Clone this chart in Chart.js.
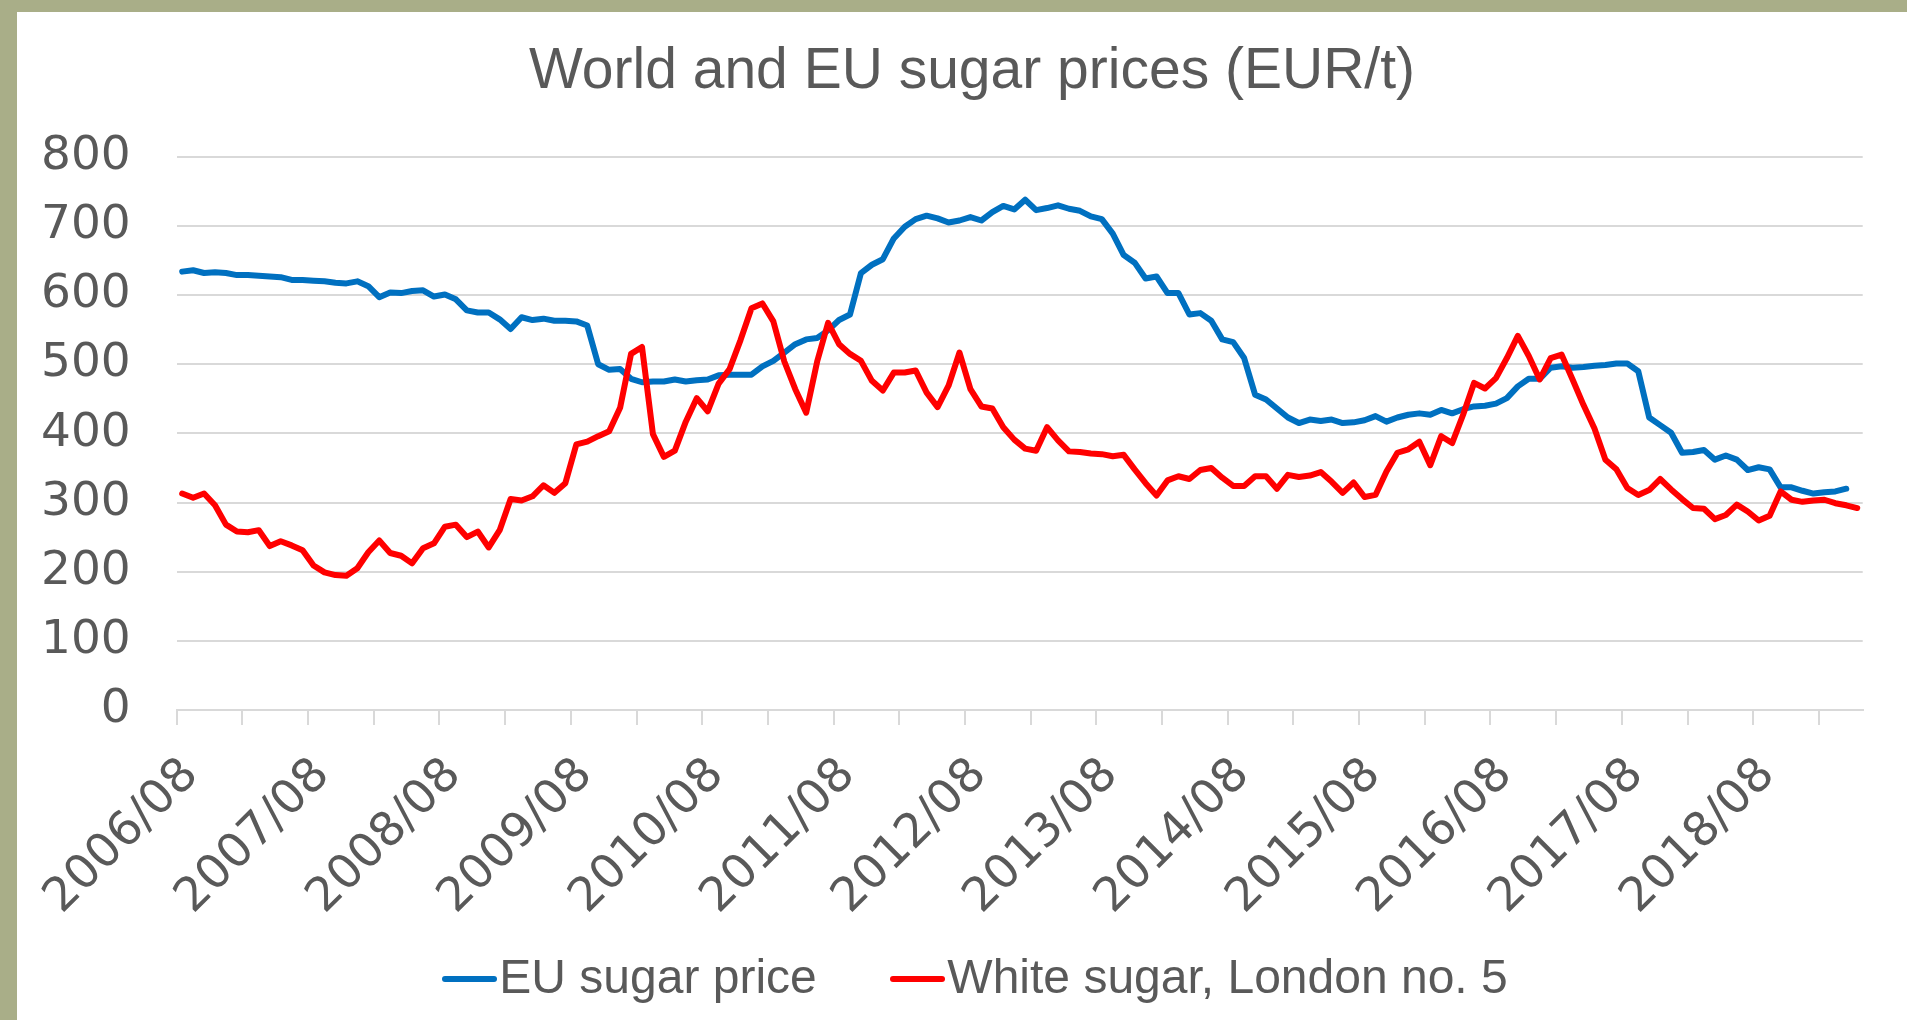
<!DOCTYPE html>
<html>
<head>
<meta charset="utf-8">
<title>World and EU sugar prices (EUR/t)</title>
<script src="https://cdn.jsdelivr.net/npm/chart.js@4.4.1/dist/chart.umd.min.js"></script>
<style>
    html, body { margin: 0; padding: 0; background: #fff; overflow: hidden; }
    #frame {
        position: relative;
        width: 1907px;
        height: 1020px;
        box-sizing: border-box;
        border-left: 17px solid #a9ae88;
        border-top: 12px solid #a9ae88;
        background: #fff;
    }
    canvas { display: block; }
    #legend {
        position: absolute;
        left: 424.7px;
        top: 940.7px;
        display: flex;
        align-items: center;
        font-family: 'Liberation Sans', Arial, sans-serif;
        font-size: 48px;
        line-height: 48px;
        color: #595959;
        white-space: nowrap;
    }
    #legend .item { display: flex; align-items: center; }
    #legend .item + .item { margin-left: 73px; }
    #legend .swatch {
        position: relative;
        top: 2px;
        width: 55.6px;
        height: 6px;
        border-radius: 3px;
        margin-right: 2px;
    }
</style>
</head>
<body>
<div id="frame">
    <canvas id="sugar-chart" width="1890" height="1008"></canvas>
    <div id="legend"></div>
</div>
<script>
// monthly series, 2006/08 .. 2019/05
const startYear = 2006;
const startMonth = 8;
const monthCount = 154;

const months = [];
for (let i = 0; i < monthCount; i++) {
    const m = startMonth - 1 + i;
    months.push(`${startYear + Math.floor(m / 12)}/${String((m % 12) + 1).padStart(2, '0')}`);
}

const tickLabels = ['2006/08', '2007/08', '2008/08', '2009/08', '2010/08', '2011/08', '2012/08',
    '2013/08', '2014/08', '2015/08', '2016/08', '2017/08', '2018/08'];

const euPrice = [
    634, 636, 632, 633, 632, 629, 629, 628, 627, 626, 622, 622,
    621, 620, 618, 617, 620, 613, 597, 604, 603, 606, 607, 598,
    601, 594, 578, 575, 575, 565, 551, 568, 564, 566, 563, 563,
    562, 556, 500, 492, 493, 479, 474, 475, 475, 478, 475, 477,
    478, 484, 485, 485, 485, 497, 505, 517, 529, 536, 538, 549,
    564, 572, 632, 644, 652, 682, 699, 710, 715, 711, 705, 708,
    713, 708, 720, 729, 724, 738, 723, 726, 730, 725, 722, 714,
    710, 689, 658, 647, 624, 627, 603, 603, 572, 574, 563, 536,
    532, 509, 456, 449, 436, 423, 415, 420, 418, 420, 415, 416,
    419, 425, 417, 423, 427, 429, 427, 434, 429, 435, 439, 440,
    443, 451, 468, 479, 479, 495, 497, 495, 496, 498, 499, 501,
    501, 490, 423, 412, 401, 372, 373, 376, 362, 368, 362, 347,
    351, 348, 322, 322, 317, 313, 315, 316, 320, null
];

const whiteSugar = [
    313, 307, 313, 296, 268, 258, 257, 260, 237, 244, 238, 231,
    209, 199, 195, 194, 205, 228, 245, 227, 223, 212, 234, 241,
    265, 268, 250, 258, 235, 260, 305, 303, 309, 325, 314, 328,
    384, 388, 396, 403, 437, 515, 525, 399, 366, 375, 417, 451,
    432, 472, 493, 535, 581, 588, 562, 504, 464, 430, 504, 560,
    529, 515, 505, 476, 462, 488, 488, 491, 459, 438, 469, 517,
    464, 439, 436, 409, 391, 378, 375, 409, 390, 374, 373, 371,
    370, 367, 369, 348, 328, 310, 332, 338, 334, 347, 350, 336,
    324, 324, 338, 338, 320, 340, 337, 339, 344, 330, 314, 329,
    308, 311, 345, 372, 377, 388, 354, 396, 386, 427, 473, 465,
    480, 509, 541, 512, 478, 509, 514, 478, 441, 407, 362, 348,
    321, 311, 318, 334, 319, 305, 292, 291, 276, 282, 297, 287,
    274, 281, 316, 304, 301, 303, 304, 299, 296, 292
];

const TEXT = '#595959';
const GRID = '#d9d9d9';

// legend as html below the plot, built from the datasets
function buildLegend(chart) {
    const box = document.getElementById('legend');
    box.innerHTML = '';
    chart.data.datasets.forEach((ds) => {
        const item = document.createElement('span');
        item.className = 'item';
        const swatch = document.createElement('span');
        swatch.className = 'swatch';
        swatch.style.background = ds.borderColor;
        const text = document.createElement('span');
        text.textContent = ds.label;
        item.appendChild(swatch);
        item.appendChild(text);
        box.appendChild(item);
    });
}

document.addEventListener('DOMContentLoaded', () => {
    const ctx = document.getElementById('sugar-chart').getContext('2d');
    const sugarChart = new Chart(ctx, {
        type: 'line',
        data: {
            labels: months,
            datasets: [
                {
                    label: 'EU sugar price',
                    data: euPrice,
                    borderColor: '#0070c0',
                    backgroundColor: '#0070c0',
                    borderWidth: 6,
                    order: 1,
                },
                {
                    label: 'White sugar, London no. 5',
                    data: whiteSugar,
                    borderColor: '#ff0000',
                    backgroundColor: '#ff0000',
                    borderWidth: 6,
                    order: 0,
                },
            ],
        },
        options: {
            responsive: false,
            animation: false,
            elements: {
                point: { radius: 0 },
                line: { tension: 0, borderCapStyle: 'round', borderJoinStyle: 'round' },
            },
            layout: {
                padding: { left: 20, right: 0, top: 0, bottom: 0 },
            },
            scales: {
                x: {
                    offset: true,
                    afterFit: (scale) => {
                        scale.height = 310.1;
                        scale.paddingRight = 44.3;
                    },
                    grid: {
                        offset: true,
                        drawOnChartArea: false,
                        drawTicks: true,
                        tickLength: 15,
                        lineWidth: 2,
                        color: (c) => (c.index % 6 === 0 ? GRID : 'rgba(0,0,0,0)'),
                    },
                    border: { color: GRID, width: 2 },
                    ticks: {
                        autoSkip: false,
                        minRotation: 45,
                        maxRotation: 45,
                        labelOffset: 9,
                        padding: 23,
                        color: TEXT,
                        font: { family: 'DejaVu Sans', size: 47 },
                        callback: function (value) {
                            const lbl = this.getLabelForValue(value);
                            return tickLabels.includes(lbl) ? lbl : '';
                        },
                    },
                },
                y: {
                    min: 0,
                    max: 800,
                    afterFit: (scale) => { scale.width = 139.7; },
                    grid: { color: GRID, lineWidth: 2, drawTicks: false },
                    border: { display: false },
                    ticks: {
                        stepSize: 100,
                        padding: 46,
                        color: TEXT,
                        font: { family: 'DejaVu Sans', size: 47 },
                    },
                },
            },
            plugins: {
                title: {
                    display: true,
                    text: 'World and EU sugar prices (EUR/t)',
                    color: TEXT,
                    font: { family: 'Liberation Sans', size: 57, weight: 'normal' },
                    padding: { top: 26, bottom: 50.5 },
                },
                legend: { display: false },
                tooltip: { enabled: false },
            },
        },
    });
    buildLegend(sugarChart);
});
</script>
</body>
</html>
